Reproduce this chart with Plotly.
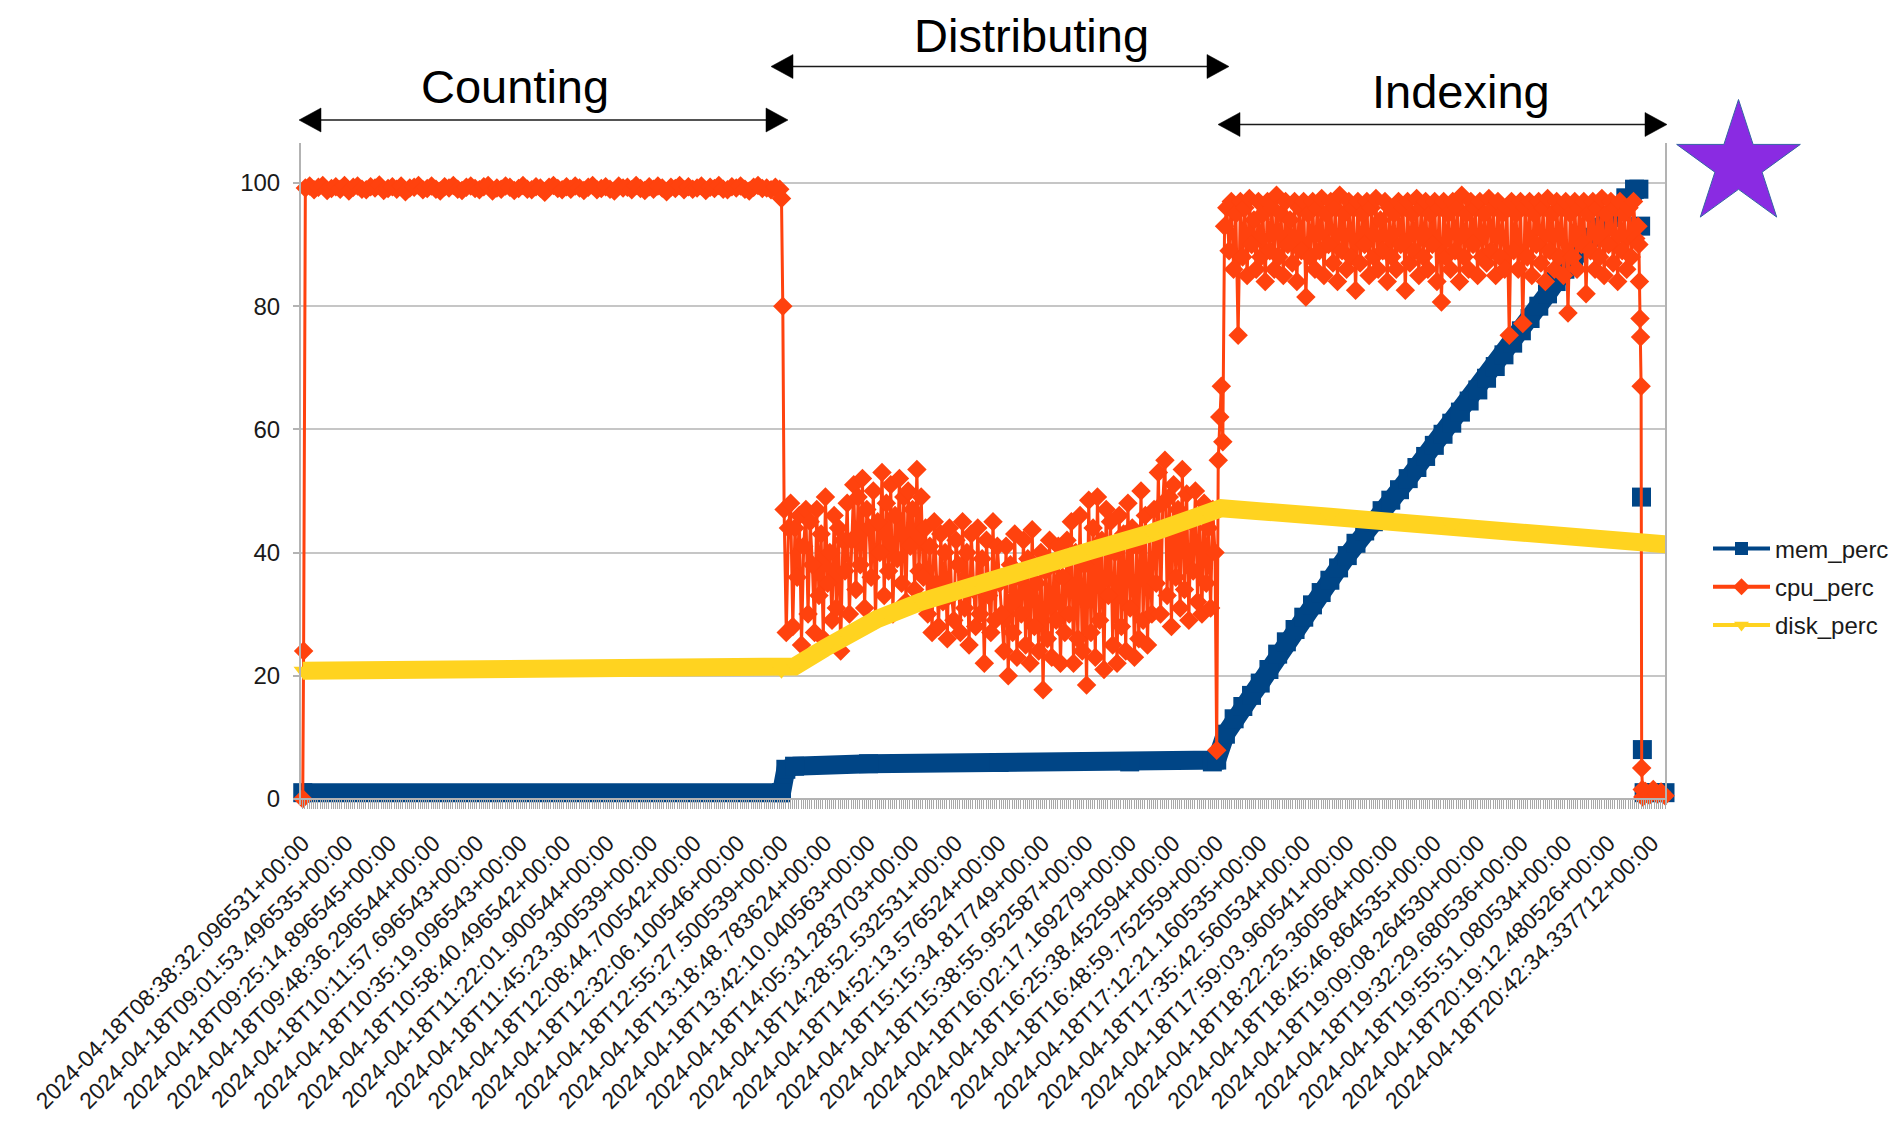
import math
import plotly.graph_objects as go

# ---------------- data ----------------
tick_labels = [
    "2024-04-18T08:38:32.096531+00:00", "2024-04-18T09:01:53.496535+00:00",
    "2024-04-18T09:25:14.896545+00:00", "2024-04-18T09:48:36.296544+00:00",
    "2024-04-18T10:11:57.696543+00:00", "2024-04-18T10:35:19.096543+00:00",
    "2024-04-18T10:58:40.496542+00:00", "2024-04-18T11:22:01.900544+00:00",
    "2024-04-18T11:45:23.300539+00:00", "2024-04-18T12:08:44.700542+00:00",
    "2024-04-18T12:32:06.100546+00:00", "2024-04-18T12:55:27.500539+00:00",
    "2024-04-18T13:18:48.783624+00:00", "2024-04-18T13:42:10.040563+00:00",
    "2024-04-18T14:05:31.283703+00:00", "2024-04-18T14:28:52.532531+00:00",
    "2024-04-18T14:52:13.576524+00:00", "2024-04-18T15:15:34.817749+00:00",
    "2024-04-18T15:38:55.952587+00:00", "2024-04-18T16:02:17.169279+00:00",
    "2024-04-18T16:25:38.452594+00:00", "2024-04-18T16:48:59.752559+00:00",
    "2024-04-18T17:12:21.160535+00:00", "2024-04-18T17:35:42.560534+00:00",
    "2024-04-18T17:59:03.960541+00:00", "2024-04-18T18:22:25.360564+00:00",
    "2024-04-18T18:45:46.864535+00:00", "2024-04-18T19:09:08.264530+00:00",
    "2024-04-18T19:32:29.680536+00:00", "2024-04-18T19:55:51.080534+00:00",
    "2024-04-18T20:19:12.480526+00:00", "2024-04-18T20:42:34.337712+00:00",
]
samples_per_label = 10  # sample-index spacing between labelled categories

# cpu_perc, split by phase; each segment spans a range of the sample index
cpu_rise = [0, 24]
cpu_counting = [
    99.2, 99.5, 98.9, 99.3, 99.6, 98.8, 99.1, 99.4, 99.0, 99.6,
    98.7, 99.3, 99.5, 99.0, 98.9, 99.4, 99.2, 99.7, 98.8, 99.1,
    99.4, 99.0, 99.5, 98.6, 99.2, 99.3, 99.6, 98.9, 99.1, 99.5,
    99.0, 98.7, 99.4, 99.2, 99.6, 99.0, 98.8, 99.3, 99.5, 99.1,
    98.9, 99.4, 99.6, 98.7, 99.2, 99.0, 99.5, 99.3, 98.8, 99.1,
    99.6, 99.0, 98.9, 99.4, 99.2, 98.5, 99.3, 99.6, 99.1, 98.9,
    99.4, 99.0, 99.5, 99.2, 98.8, 99.3, 99.6, 98.9, 99.1, 99.4,
    99.0, 98.7, 99.5, 99.2, 99.3, 98.9, 99.6, 99.1, 98.8, 99.4,
    99.0, 99.5, 99.2, 98.6, 99.3, 99.1, 99.6, 98.9, 99.4, 99.0,
    99.2, 99.5, 98.8, 99.3, 99.1, 99.6, 99.0, 98.9, 99.4, 99.2,
    99.5, 99.0, 98.7, 99.3, 99.6, 99.1, 99.2, 98.9, 99.3, 99.0,
]
cpu_counting_end = [97.5, 80]
cpu_distributing = [
    47, 27, 44,
    48, 28, 44, 36, 46, 25, 41, 47, 30, 45, 38, 27, 47, 33, 43, 26, 49, 35, 40, 29,
    46, 31, 44, 24, 42, 37, 48, 30,
    42, 51, 34, 49, 38, 52, 31, 47, 44, 36, 50, 29, 45, 40, 53, 33, 48, 37, 51, 30,
    46, 39, 52, 35, 49, 32, 50, 41, 47, 34, 53.5, 37, 49, 36,
    44, 30, 41, 27, 45, 35, 28, 43, 32, 40, 26, 44, 33, 29, 42, 38, 27, 45, 31, 40,
    25, 43, 34, 28, 44, 30, 39, 22, 42, 33, 27, 45, 29, 41, 35, 30,
    24, 41, 20, 38, 27, 43, 23, 36, 30, 42, 25, 39, 22, 43.7, 28, 35, 24, 40, 17.7, 37,
    26, 42, 23, 38, 29, 41, 22, 36, 27, 42,
    30, 45, 22, 40, 26, 46, 24, 38, 18.5, 48.5, 27, 44, 23, 49, 29, 42, 21, 47, 33, 45,
    25, 40, 22, 46, 28, 43, 24, 48, 31, 44, 23, 41, 26, 50, 29, 46, 25, 43, 30, 47,
    35, 53, 30, 48, 55, 33, 49, 28, 51, 36, 47, 31, 53.5, 34, 49.5, 29, 45, 37, 50, 32,
    46, 30, 48, 35, 44, 31, 47, 40,
]
cpu_transition = [7.9, 55, 62, 67, 58]
cpu_indexing = [
    93, 96, 89, 97, 86, 95, 75.3, 97, 88, 96, 85, 97.5, 90, 94, 86, 97, 88, 95, 84, 97,
    89, 96, 86, 98, 88, 95, 85, 97, 90, 94, 87, 97, 84, 96, 89, 97, 81.5, 95, 88, 97,
    86, 96, 89, 97.5, 85, 95, 90, 97, 87, 96, 84, 98, 89, 95, 86, 97, 88, 96, 82.6, 97,
    87, 95, 90, 97, 85, 96, 88, 97.5, 86, 94, 89, 97, 84, 96, 88, 95, 86, 97, 90, 96,
    82.6, 97, 87, 95, 89, 97.5, 85, 96, 88, 97, 86, 95, 90, 97, 84, 96, 80.7, 97, 88, 95,
    86, 97, 89, 96, 84, 98, 88, 95, 86, 97, 90, 96, 85, 97, 88, 95, 87, 97.5, 89, 96,
    85, 97, 88, 95, 86, 96, 75.3, 97, 89, 95, 86, 97, 77.2, 96, 88, 97, 85, 95, 90, 97,
    87, 96, 84, 97.5, 89, 95, 86, 97, 88, 96, 85, 97, 78.9, 95, 88, 97, 86, 96, 90, 97,
    82, 95, 89, 97, 86, 96, 88, 97.5, 85, 95, 90, 97, 87, 96, 84, 97, 89, 95, 86, 96,
    88, 97, 91, 93,
]
cpu_drop = [90, 84, 78, 75, 67, 5, 1.5, 0.3]
cpu_end = [1.2, 0.6, 1.5, 0.8, 1.1, 0.5]

# (values, first sample index, last sample index)
cpu_segments = [
    (cpu_rise, 0.0, 0.2),
    (cpu_counting, 0.6, 109.6),
    (cpu_counting_end, 110.0, 110.3),
    (cpu_distributing, 110.6, 209.6),
    (cpu_transition, 210.0, 211.4),
    (cpu_indexing, 211.8, 306.8),
    (cpu_drop, 307.0, 307.9),
    (cpu_end, 308.5, 313.0),
]

mem_x = [0, 110, 111, 113, 130, 160, 190, 209,
         210, 212, 214, 216, 218, 220, 222, 224, 226, 228, 230, 232, 234, 236, 238,
         240, 242, 244, 246, 248, 250, 252, 254, 256, 258, 260, 262, 264, 266, 268,
         270, 272, 274, 276, 278, 280, 282, 284, 286, 288, 290, 292, 294, 296, 298,
         300, 302, 304, 306, 307, None, 307.4, None, 307.6, None, 307.8, None, 308.2, 313]
mem = [1.0, 1.0, 4.8, 5.3, 5.7, 5.9, 6.0, 6.0,
       6.3, 10.5, 13, 15, 16.8, 18.8, 21, 23.5, 25.5, 27.5, 29.5, 31.5, 33.5, 35.5, 37.5,
       39.5, 41.5, 43.5, 45, 46.8, 48.5, 50.2, 52, 53.8, 55.6, 57.4, 59.2, 61, 62.8, 64.6,
       66.4, 68.3, 70.2, 72.1, 74, 76, 78, 80, 82, 84, 86, 88, 89.5, 91.2, 92.8,
       94.4, 96, 97.6, 99, 99, None, 93, None, 49, None, 8, None, 1, 1]

disk_x = [0, 110, 113, 120, 125, 132, 142, 153, 167, 181, 195, 208, 211, 236, 264, 292, 313.5]
disk = [20.8, 20.8, 21.5, 24.5, 26.5, 29.2, 32, 34.5, 37.5, 40.3, 43.2, 46.2, 47.2,
        45.8, 44.3, 42.6, 41.3]

series_names = ["mem_perc", "cpu_perc", "disk_perc"]
series_colors = ["#004586", "#ff420e", "#ffd320"]
series_symbols = ["square", "diamond", "triangle-down"]

phase_names = ["Counting", "Distributing", "Indexing"]

# ---------------- geometry (page pixels; body has an 8px margin) ----------------
BODY = 8
FIG_W, FIG_H = 1897 - 2 * BODY, 1131 - 2 * BODY
M_L, M_R, M_T, M_B = 293, 224, 135, 318
PW = FIG_W - M_L - M_R
PH = FIG_H - M_T - M_B
Y_MIN, Y_MAX = -1.0, 106.5
X_MIN, X_MAX = -0.4, 313.0


def px(x_page):
    return (x_page - BODY - M_L) / PW


def py(y_page):
    return (FIG_H - M_B - (y_page - BODY)) / PH


FONT = "Liberation Sans, Arial, sans-serif"

cpu_x, cpu_y = [], []
for vals, a, b in cpu_segments:
    n = len(vals)
    for k, v in enumerate(vals):
        cpu_x.append(a + (b - a) * k / (n - 1) if n > 1 else a)
        cpu_y.append(v)

tick_vals = [i * samples_per_label for i in range(len(tick_labels))]

fig = go.Figure()

fig.add_trace(go.Scatter(
    x=mem_x, y=mem, mode="lines+markers", showlegend=False, cliponaxis=False,
    connectgaps=False,
    line=dict(color=series_colors[0], width=19),
    marker=dict(symbol="square", size=19, color=series_colors[0]),
    hoverinfo="skip"))
fig.add_trace(go.Scatter(
    x=cpu_x, y=cpu_y, mode="lines+markers", showlegend=False, cliponaxis=False,
    line=dict(color=series_colors[1], width=3),
    marker=dict(symbol="diamond", size=15, color=series_colors[1]),
    hoverinfo="skip"))
fig.add_trace(go.Scatter(
    x=disk_x, y=disk, mode="lines+markers", showlegend=False, cliponaxis=False,
    line=dict(color=series_colors[2], width=18),
    marker=dict(symbol="triangle-down", size=16, color=series_colors[2]),
    hoverinfo="skip"))

for name, col, sym in zip(series_names, series_colors, series_symbols):
    fig.add_trace(go.Scatter(
        x=[None], y=[None], mode="lines+markers", name=name, legendgroup=name,
        line=dict(color=col, width=4),
        marker=dict(symbol=sym, size=13, color=col)))

# ---------------- annotations: phase arrows, labels, star ----------------
shapes = []
annotations = []
ARROW_COL = "#1a1a1a"
HEAD_L, HEAD_W = 22, 12
phase_arrows = [  # (left tip, right tip, y) in page px
    (299, 788, 120),
    (771, 1229, 66.5),
    (1218, 1667, 124.5),
]
phase_text = [(515, 86), (1031, 35), (1461, 91)]

for (xl, xr, yy), name, (tx, ty) in zip(phase_arrows, phase_names, phase_text):
    shapes.append(dict(type="line", xref="paper", yref="paper",
                       x0=px(xl + HEAD_L - 2), x1=px(xr - HEAD_L + 2), y0=py(yy), y1=py(yy),
                       line=dict(color=ARROW_COL, width=1.6)))
    for tip, d in ((xl, 1), (xr, -1)):
        path = "M {} {} L {} {} L {} {} Z".format(
            px(tip), py(yy),
            px(tip + d * HEAD_L), py(yy - HEAD_W),
            px(tip + d * HEAD_L), py(yy + HEAD_W))
        shapes.append(dict(type="path", xref="paper", yref="paper", path=path,
                           fillcolor="#000000", line=dict(color="#000000", width=0.5)))
    annotations.append(dict(text=name, x=px(tx), y=py(ty), xref="paper", yref="paper",
                            showarrow=False, xanchor="center", yanchor="middle",
                            font=dict(family=FONT, size=47, color="#000000")))

# star decoration
cx, cy, R = 1738.5, 164.5, 65.0
r_in = R * 0.382
pts = []
for k in range(10):
    ang = math.radians(-90 + 36 * k)
    rad = R if k % 2 == 0 else r_in
    pts.append((cx + rad * math.cos(ang), cy + rad * math.sin(ang)))
star_path = "M " + " L ".join("{} {}".format(px(a), py(b)) for a, b in pts) + " Z"
shapes.append(dict(type="path", xref="paper", yref="paper", path=star_path,
                   fillcolor="#8a2be2", line=dict(color="#3465a4", width=1)))

AX_GRAY = "#b3b3b3"
fig.update_layout(
    width=FIG_W, height=FIG_H, autosize=False,
    margin=dict(l=M_L, r=M_R, t=M_T, b=M_B, autoexpand=False),
    paper_bgcolor="white", plot_bgcolor="white",
    font=dict(family=FONT, size=24, color="#1a1a1a"),
    showlegend=True,
    legend=dict(x=px(1708), y=py(587), xanchor="left", yanchor="middle",
                font=dict(family=FONT, size=24, color="#1a1a1a"),
                itemwidth=57, tracegroupgap=4, bgcolor="rgba(0,0,0,0)",
                traceorder="grouped"),
    xaxis=dict(
        range=[X_MIN, X_MAX], anchor="free", position=(0 - Y_MIN) / (Y_MAX - Y_MIN),
        tickmode="array", tickvals=tick_vals, ticktext=tick_labels, tickangle=-45,
        tickfont=dict(family=FONT, size=23, color="#1a1a1a"),
        ticks="outside", ticklen=9, tickwidth=1, tickcolor="#a8a8a8",
        ticklabelstandoff=12,
        minor=dict(tickmode="linear", tick0=0, dtick=0.5, ticks="outside", ticklen=9,
                   tickwidth=1, tickcolor="#a8a8a8", showgrid=False),
        showgrid=False, zeroline=False, showline=True, linecolor=AX_GRAY, linewidth=1.5,
        automargin=False),
    yaxis=dict(
        range=[Y_MIN, Y_MAX], tickmode="array", tickvals=[0, 20, 40, 60, 80, 100],
        tickfont=dict(family=FONT, size=24, color="#1a1a1a"),
        ticks="outside", ticklen=6, tickwidth=1.5, tickcolor=AX_GRAY,
        ticklabelstandoff=8,
        showgrid=True, gridcolor="#c6c6c6", gridwidth=2, zeroline=False,
        showline=True, mirror=True, linecolor=AX_GRAY, linewidth=2,
        automargin=False),
    shapes=shapes, annotations=annotations,
)

fig.write_html("out.html")
